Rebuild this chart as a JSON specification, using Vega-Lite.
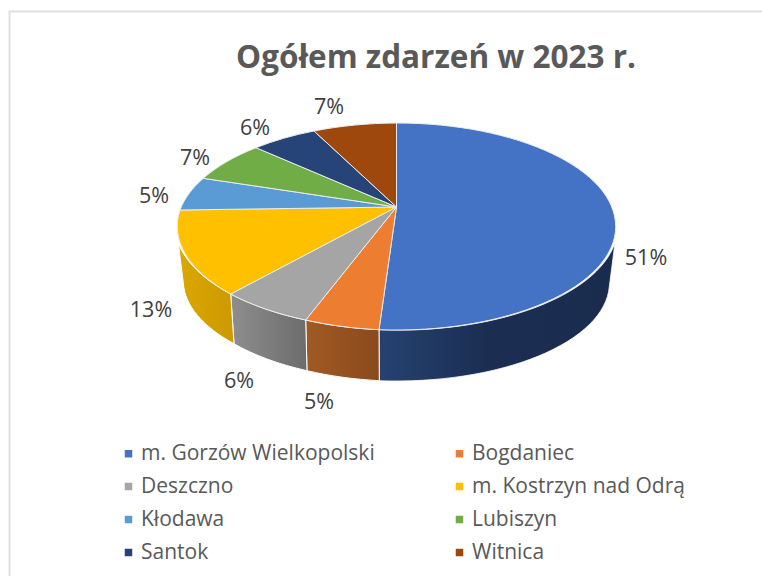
{
"$schema":"https://vega.github.io/schema/vega-lite/v6.json",
"width":762,"height":576,"padding":0,"autosize":{"type":"none"},"background":"white",
"config":{"view":{"stroke":null},"font":"Open Sans"},
"title":{"text":"Ogółem zdarzeń w 2023 r.","anchor":"middle","frame":"group","dx":55,"dy":99,"offset":0,"baseline":"alphabetic","fontSize":31.5,"fontWeight":"bold","font":"Open Sans","color":"#595959"},
"data":{"values":[
{"gmina":"m. Gorzów Wielkopolski","share":0.51},
{"gmina":"Bogdaniec","share":0.05},
{"gmina":"Deszczno","share":0.06},
{"gmina":"m. Kostrzyn nad Odrą","share":0.13},
{"gmina":"Kłodawa","share":0.05},
{"gmina":"Lubiszyn","share":0.07},
{"gmina":"Santok","share":0.06},
{"gmina":"Witnica","share":0.07}
]},
"layer":[
{"data":{"values":[{"frame":"chart area"}]},
 "mark":{"type":"point","filled":false,"opacity":1,"size":4,"stroke":"#e0e0e0","strokeWidth":2,"shape":"M-371.5,288 L-371.5,-276.5 L381,-276.5"}},
{"mark":{"type":"point","filled":true,"opacity":1,"size":1,"shape":"square"},
 "encoding":{
  "fill":{"field":"gmina","type":"nominal","scale":{
    "domain":["m. Gorzów Wielkopolski","Bogdaniec","Deszczno","m. Kostrzyn nad Odrą","Kłodawa","Lubiszyn","Santok","Witnica"],
    "range":["#4472C4","#ED7D31","#A5A5A5","#FFC000","#5B9BD5","#70AD47","#264478","#9E480E"]},
   "legend":{"title":null,"orient":"none","legendX":118,"legendY":443,"direction":"horizontal","columns":2,"padding":0,"symbolType":"square","symbolSize":56,"symbolStrokeWidth":0,"symbolOpacity":1,"labelFont":"Open Sans","labelFontSize":21,"labelColor":"#595959","labelOffset":2,"rowPadding":11,"columnPadding":74,"gridAlign":"each","labelLimit":400}}
 }},
{"transform":[{"filter":"datum.gmina==='m. Gorzów Wielkopolski'"}],
 "mark":{"type":"point","filled":true,"opacity":1,"size":4,"stroke":"#ffffff","strokeWidth":0.8,
 "fill":{"gradient":"linear","x1":0,"y1":0,"x2":1,"y2":0,"stops":[{"offset":0,"color":"#264272"},{"offset":0.45,"color":"#1b2e52"},{"offset":1,"color":"#1a2c4e"}]},
 "shape":"M234,-45.3 A219.2,103.5 0 0 1 -2,41.7 L-1.7,92.7 A213,98 0 0 0 228.3,-1.3 Z"}},
{"transform":[{"filter":"datum.gmina==='Bogdaniec'"}],
 "mark":{"type":"point","filled":true,"opacity":1,"size":4,"stroke":"#ffffff","strokeWidth":1,
 "fill":{"gradient":"linear","x1":0,"y1":0,"x2":1,"y2":0,"stops":[{"offset":0,"color":"#a05a24"},{"offset":1,"color":"#8a4a1c"}]},
 "shape":"M-2,41.7 A219.2,103.5 0 0 1 -75.3,32 L-74,82.7 A213,98 0 0 0 -1.7,92.7 Z"}},
{"transform":[{"filter":"datum.gmina==='Deszczno'"}],
 "mark":{"type":"point","filled":true,"opacity":1,"size":4,"stroke":"#ffffff","strokeWidth":1,
 "fill":{"gradient":"linear","x1":0,"y1":0,"x2":1,"y2":0,"stops":[{"offset":0,"color":"#8e8e8e"},{"offset":1,"color":"#6c6c6c"}]},
 "shape":"M-75.3,32 A219.2,103.5 0 0 1 -150.3,6 L-147,55.7 A213,98 0 0 0 -74,82.7 Z"}},
{"transform":[{"filter":"datum.gmina==='m. Kostrzyn nad Odrą'"}],
 "mark":{"type":"point","filled":true,"opacity":1,"size":4,"stroke":"#ffffff","strokeWidth":1,
 "fill":{"gradient":"linear","x1":0,"y1":0,"x2":1,"y2":0,"stops":[{"offset":0,"color":"#dba700"},{"offset":1,"color":"#cc9a00"}]},
 "shape":"M-150.3,6 A219.2,103.5 0 0 1 -202.7,-45 L-197.7,-5 A213,98 0 0 0 -147,55.7 Z"}},
{"mark":{"type":"point","filled":true,"opacity":1,"size":4,"stroke":"#ebebeb","strokeWidth":1},
 "encoding":{
  "color":{"field":"gmina","type":"nominal","legend":null,"scale":{
    "domain":["Witnica","Santok","Lubiszyn","Kłodawa","m. Kostrzyn nad Odrą","Deszczno","Bogdaniec","m. Gorzów Wielkopolski"],
    "range":["#9E480E","#264478","#70AD47","#5B9BD5","#FFC000","#A5A5A5","#ED7D31","#4472C4"]}},
  "shape":{"field":"gmina","type":"nominal","legend":null,"scale":{
    "domain":["Witnica","Santok","Lubiszyn","Kłodawa","m. Kostrzyn nad Odrą","Deszczno","Bogdaniec","m. Gorzów Wielkopolski"],
    "range":[
     "M15.5,-81 L-67,-157 A219.2,103.5 0 0 1 15.5,-165 Z",
     "M15.5,-81 L-125,-140.3 A219.2,103.5 0 0 1 -67,-157 Z",
     "M15.5,-81 L-177.7,-109.7 A219.2,103.5 0 0 1 -125,-140.3 Z",
     "M15.5,-81 L-201,-78 A219.2,103.5 0 0 1 -177.7,-109.7 Z",
     "M15.5,-81 L-150.3,6 A219.2,103.5 0 0 1 -201,-78 Z",
     "M15.5,-81 L-75.3,32 A219.2,103.5 0 0 1 -150.3,6 Z",
     "M15.5,-81 L-2,41.7 A219.2,103.5 0 0 1 -75.3,32 Z",
     "M15.5,-81 L15.5,-165 A219.2,103.5 0 0 1 234.7,-61.5 A219.2,103.5 0 0 1 -2,41.7 Z"]}}
 }},
{"transform":[{"filter":"datum.gmina==='m. Gorzów Wielkopolski'"}],"mark":{"type":"text","font":"Open Sans","fontSize":21.5,"color":"#404040","dx":265,"dy":-29},"encoding":{"text":{"field":"share","type":"quantitative","format":".0%"}}},
{"transform":[{"filter":"datum.gmina==='Bogdaniec'"}],"mark":{"type":"text","font":"Open Sans","fontSize":21.5,"color":"#404040","dx":-62,"dy":115},"encoding":{"text":{"field":"share","type":"quantitative","format":".0%"}}},
{"transform":[{"filter":"datum.gmina==='Deszczno'"}],"mark":{"type":"text","font":"Open Sans","fontSize":21.5,"color":"#404040","dx":-142,"dy":94},"encoding":{"text":{"field":"share","type":"quantitative","format":".0%"}}},
{"transform":[{"filter":"datum.gmina==='m. Kostrzyn nad Odrą'"}],"mark":{"type":"text","font":"Open Sans","fontSize":21.5,"color":"#404040","dx":-230,"dy":23},"encoding":{"text":{"field":"share","type":"quantitative","format":".0%"}}},
{"transform":[{"filter":"datum.gmina==='Kłodawa'"}],"mark":{"type":"text","font":"Open Sans","fontSize":21.5,"color":"#404040","dx":-227,"dy":-91},"encoding":{"text":{"field":"share","type":"quantitative","format":".0%"}}},
{"transform":[{"filter":"datum.gmina==='Lubiszyn'"}],"mark":{"type":"text","font":"Open Sans","fontSize":21.5,"color":"#404040","dx":-186,"dy":-129},"encoding":{"text":{"field":"share","type":"quantitative","format":".0%"}}},
{"transform":[{"filter":"datum.gmina==='Santok'"}],"mark":{"type":"text","font":"Open Sans","fontSize":21.5,"color":"#404040","dx":-126,"dy":-159},"encoding":{"text":{"field":"share","type":"quantitative","format":".0%"}}},
{"transform":[{"filter":"datum.gmina==='Witnica'"}],"mark":{"type":"text","font":"Open Sans","fontSize":21.5,"color":"#404040","dx":-52,"dy":-180},"encoding":{"text":{"field":"share","type":"quantitative","format":".0%"}}}
]
}
